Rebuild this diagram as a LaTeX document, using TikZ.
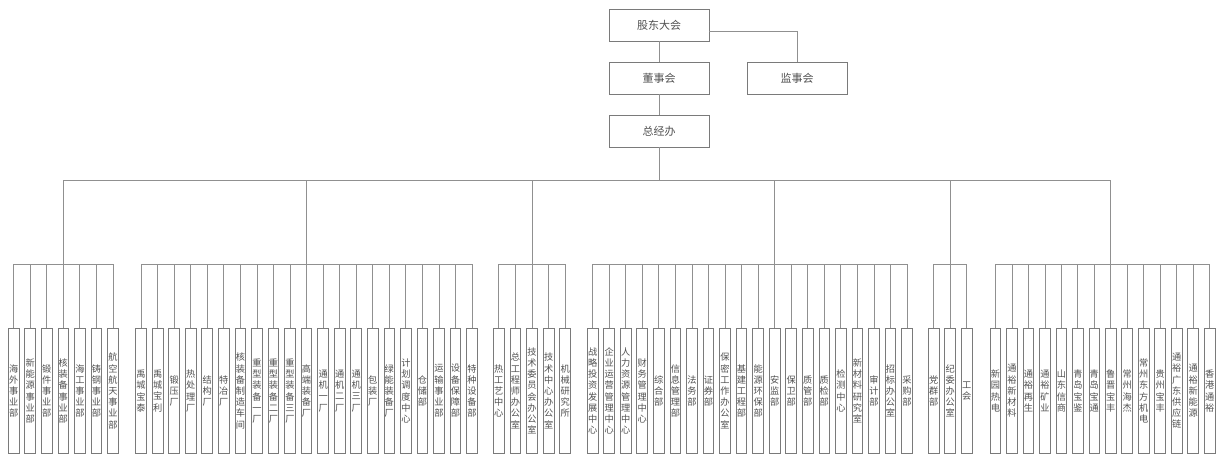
\documentclass[tikz,border=0pt]{standalone}
\usepackage{fontspec}
\setmainfont{Noto Sans CJK SC}
\definecolor{boxline}{HTML}{7A7A7A}
\definecolor{conline}{HTML}{909090}
\definecolor{txt}{HTML}{505050}
\makeatletter
\newcommand\vtext[1]{\vt@a#1\vt@end}
\def\vt@a#1#2\vt@end{#1\ifx\relax#2\relax\else\\\vt@a#2\vt@end\fi}
\makeatother
\tikzset{
  topbox/.style={draw=boxline,line width=0.9pt,minimum width=100pt,minimum height=32pt,inner sep=0pt,text=txt,font=\fontsize{11}{13}\selectfont},
  vbox/.style={draw=boxline,line width=0.9pt,minimum width=10.7pt,minimum height=125pt,inner sep=0pt,anchor=north,align=center,text=txt,font=\fontsize{9.2}{11.2}\selectfont},
  con/.style={draw=conline,line width=0.8pt}
}
\begin{document}
\begin{tikzpicture}[x=1pt,y=-1pt]
\useasboundingbox (0,0) rectangle (1223,455);
% top nodes
\node[topbox] (gd) at (659,25) {股东大会};
\node[topbox] (dsh) at (659,78) {董事会};
\node[topbox] (jsh) at (797,78) {监事会};
\node[topbox] (zjb) at (659,131) {总经办};
\coordinate (mainY) at (0,180);
\coordinate (subY) at (0,264);
% groups
\foreach \t [count=\i from 0] in {海外事业部,新能源事业部,锻件事业部,核装备事业部,海工事业部,铸钢事业部,航空航天事业部}
  \node[vbox] (a\i) at ({13.65+16.55*\i},328) {\expandafter\vtext\expandafter{\t}};
\foreach \t [count=\i from 0] in {禹城宝泰,禹城宝利,锻压厂,热处理厂,结构厂,特冶厂,核装备制造车间,重型装备一厂,重型装备二厂,重型装备三厂,高端装备厂,通机一厂,通机二厂,通机三厂,包装厂,绿能装备厂,计划调度中心,仓储部,运输事业部,设备保障部,特种设备部}
  \node[vbox] (b\i) at ({141.05+16.55*\i},328) {\expandafter\vtext\expandafter{\t}};
\foreach \t [count=\i from 0] in {热工艺中心,总工程师办公室,技术委员会办公室,技术中心办公室,机械研究所}
  \node[vbox] (c\i) at ({498.8+16.6*\i},328) {\expandafter\vtext\expandafter{\t}};
\foreach \t [count=\i from 0] in {战略投资发展中心,企业运营管理中心,人力资源管理中心,财务管理中心,综合部,信息管理部,法务部,证券部,保密工作办公室,基建工程部,能源环保部,安监部,保卫部,质管部,质检部,检测中心,新材料研究室,审计部,招标办公室,采购部}
  \node[vbox] (d\i) at ({592.6+16.55*\i},328) {\expandafter\vtext\expandafter{\t}};
\foreach \t [count=\i from 0] in {党群部,纪委办公室,工会}
  \node[vbox] (e\i) at ({933.6+16.6*\i},328) {\expandafter\vtext\expandafter{\t}};
\foreach \t [count=\i from 0] in {新园热电,通裕新材料,通裕再生,通裕矿业,山东信商,青岛宝鉴,青岛宝通,鲁晋宝丰,常州海杰,常州东方机电,贵州宝丰,通裕广东供应链,通裕新能源,香港通裕}
  \node[vbox] (f\i) at ({995.5+16.47*\i},328) {\expandafter\vtext\expandafter{\t}};
% top connectors
\draw[con] (gd) -- (dsh);
\draw[con] (dsh) -- (zjb);
\draw[con] ([yshift=-6pt]gd.east) -| (jsh.north);
\draw[con] (zjb.south) -- (zjb.south |- mainY);
\draw[con] (a3.north |- mainY) -- (f7.north |- mainY);
% group connectors
\foreach \g/\n/\d in {a/6/3,b/20/10,c/4/2,d/19/11,e/2/1,f/13/7}{
  \draw[con] (\g\d.north |- mainY) -- (\g\d.north |- subY);
  \draw[con] (\g0.north |- subY) -- (\g\n.north |- subY);
  \foreach \i in {0,...,\n}
    \draw[con] (\g\i.north |- subY) -- (\g\i.north);
}
\end{tikzpicture}
\end{document}
